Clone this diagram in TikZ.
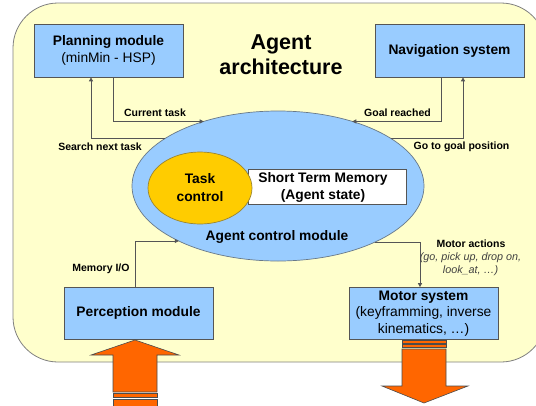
\documentclass[tikz,border=0pt]{standalone}
\usepackage{fontspec}
\setmainfont{Liberation Sans}
\usetikzlibrary{shapes.geometric,arrows.meta}
\definecolor{bgyellow}{HTML}{FFFFCC}
\definecolor{boxblue}{HTML}{99CCFF}
\definecolor{taskorange}{HTML}{FFCC00}
\definecolor{flowarrow}{HTML}{FF6600}
\definecolor{edgegray}{HTML}{555555}
\tikzset{
  module/.style={draw=edgegray, fill=boxblue, line width=0.7pt, inner sep=0pt,
    font=\fontsize{13.8}{17}\selectfont, align=center},
  conn/.style={draw=edgegray, line width=0.8pt, -{Triangle[length=4pt,width=4pt]}},
  small/.style={font=\fontsize{10.5}{12}\selectfont\bfseries, inner sep=0pt},
  bigflow/.style={fill=flowarrow, draw=black!70, line width=0.6pt},
}
\begin{document}
\begin{tikzpicture}[x=1pt,y=-1pt]
\clip (0,0) rectangle (536,405);
\fill[white] (0,0) rectangle (536,405);

% frame of the architecture
\draw[fill=bgyellow, draw=gray, line width=0.8pt, rounded corners=45pt] (13,3) rectangle (546,362);

% title
\node[font=\fontsize{21.5}{25}\selectfont\bfseries, align=center] (title) at (281,55) {Agent\\architecture};

% modules
\node[module, minimum width=149, minimum height=53] (plan) at (108.5,50.5)
  {\textbf{Planning module}\\(minMin - HSP)};
\node[module, minimum width=149, minimum height=53] (nav) at (449.5,50.5)
  {\textbf{Navigation system}};
\node[module, minimum width=149, minimum height=52] (perc) at (138.5,313)
  {\textbf{Perception module}};
\node[module, minimum width=149, minimum height=52, font=\fontsize{13.8}{16.5}\selectfont] (motor) at (423.5,313.5)
  {\textbf{Motor system}\\(keyframming, inverse\\kinematics, \dots)};

% agent control module
\node[ellipse, draw=edgegray!70!boxblue, fill=boxblue, line width=0.7pt,
      minimum width=292, minimum height=150, inner sep=0pt, outer sep=0pt] (acm) at (278,186) {};
\node[draw=edgegray, fill=white, line width=0.7pt, minimum width=158, minimum height=35,
      inner sep=0pt] (stmbox) at (327,186.5) {};
\node[font=\fontsize{13.8}{17}\selectfont\bfseries, align=center] (stm) at (323,187)
  {Short Term Memory\\(Agent state)};
\node[ellipse, draw=edgegray!60!taskorange, fill=taskorange, line width=0.7pt,
      minimum width=104, minimum height=72, inner sep=0pt,
      font=\fontsize{13.8}{18}\selectfont\bfseries, align=center] (task) at (200,188) {Task\\control};
\node[font=\fontsize{13.8}{15}\selectfont\bfseries] (acmlabel) at (277,237) {Agent control module};

% connectors
\draw[conn] ([xshift=4.5pt]plan.south) |- (acm.139);
\draw[conn] (acm.157) -| ([xshift=-17.5pt]plan.south);
\draw[conn] ([xshift=-8.5pt]nav.south) |- (acm.41);
\draw[conn] (acm.23) -| ([xshift=13.5pt]nav.south);
\draw[conn] ([xshift=-3.5pt]perc.north) |- (acm.209.5);
\draw[conn] (acm.330) -| ([xshift=-3.5pt]motor.north);

% connector labels
\node[small] (lcur) at (155,113) {Current task};
\node[small] (lsearch) at (100,147) {Search next task};
\node[small] (lgoal) at (397.5,113) {Goal reached};
\node[small] (lgoto) at (461.5,147) {Go to goal position};
\node[small] (lmem) at (101,269) {Memory I/O};
\node[small] (lmotor) at (471,244) {Motor actions};
\node[font=\fontsize{10.8}{13}\selectfont\itshape, text=black!75, align=center, inner sep=0pt] (lmotorex) at (470.5,264.5)
  {(go, pick up, drop on,\\look\_at, \dots)};

% sensory input into perception
\draw[bigflow] (113,392) -- (113,355) -- (91,355) -- (135,340) -- (179,355)
  -- (157,355) -- (157,392) -- cycle;
\draw[bigflow] (113,393) rectangle (157,397.5);
\draw[bigflow] (113,399) rectangle (157,406);

% motor output
\draw[bigflow] (402,340) rectangle (446,343);
\draw[bigflow] (402,344.5) rectangle (446,347.5);
\draw[bigflow] (402,349) -- (402,386) -- (382,386) -- (424,403) -- (468,386)
  -- (446,386) -- (446,349) -- cycle;
\end{tikzpicture}
\end{document}
